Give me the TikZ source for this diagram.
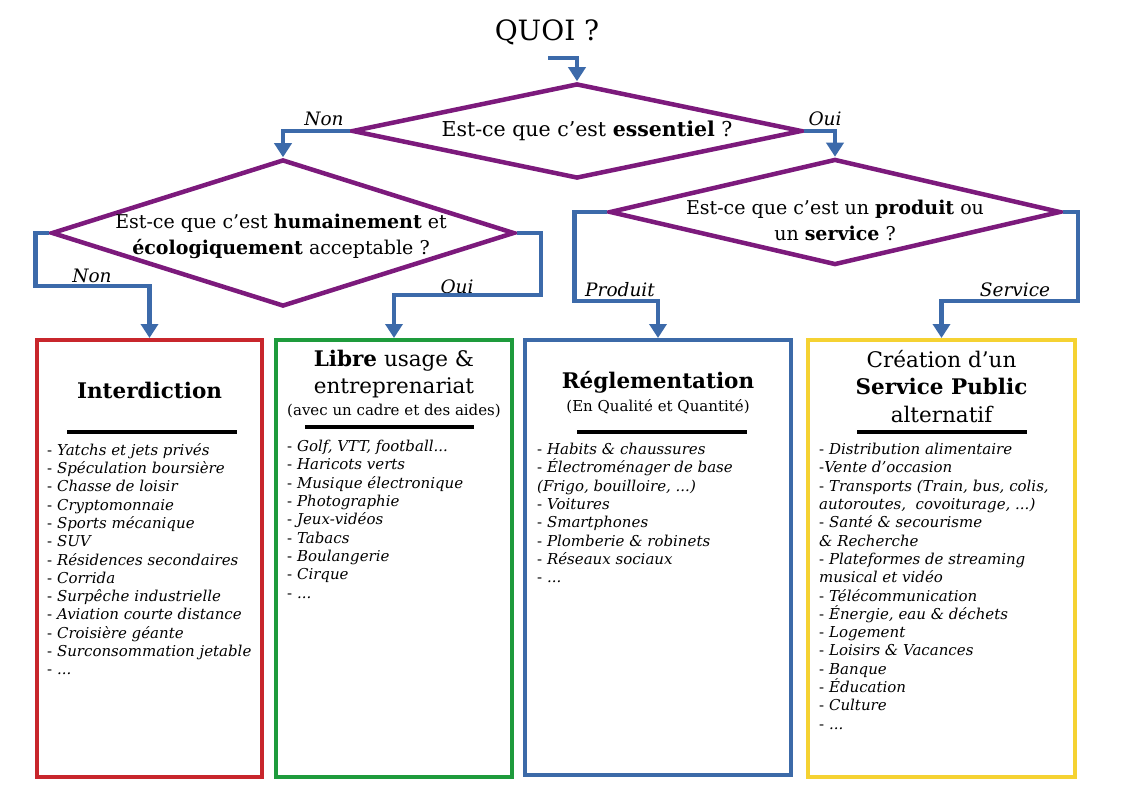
\documentclass[tikz,border=0pt]{standalone}
\usepackage{fontspec}
\setmainfont{DejaVu Serif}
\usetikzlibrary{positioning}
\usetikzlibrary{shapes.geometric}
\usetikzlibrary{arrows.meta}

\definecolor{qpurple}{RGB}{124,26,124}
\definecolor{flowblue}{RGB}{60,106,170}
\definecolor{banred}{RGB}{200,38,44}
\definecolor{freegreen}{RGB}{30,155,60}
\definecolor{lawblue}{RGB}{60,106,168}
\definecolor{pubyellow}{RGB}{245,210,50}

\tikzset{
  decision/.style={diamond, draw=qpurple, line width=4.5pt, inner sep=0pt},
  question/.style={align=center, font=\fontsize{19}{26}\selectfont},
  flow/.style={draw=flowblue, line width=4.5pt, -{Triangle[width=17pt,length=14pt]}},
  answer/.style={font=\fontsize{18.5}{20}\selectfont\itshape},
  outcome/.style={rectangle, draw, line width=4pt, inner sep=0pt},
  header/.style={align=center, font=\fontsize{21.5}{27.5}\selectfont},
  subheader/.style={font=\fontsize{15}{18}\selectfont},
  items/.style={anchor=north west, align=left, inner sep=0pt,
    font=\fontsize{15}{18.3}\selectfont},
  bar/.style={line width=4pt},
}

\begin{document}
\begin{tikzpicture}[x=1pt, y=-1pt]
    \useasboundingbox (0,0) rectangle (1123,794);

    % Define nodes
    \node[font=\fontsize{28}{34}\selectfont] (quoi) at (547,32) {QUOI ?};
    \coordinate (start) at (548,58);

    \node[decision, minimum width=450pt, minimum height=95pt]  (q1) at (577,131) {};
    \node[question, font=\fontsize{20.5}{26}\selectfont] (q1t) at (587,131) {Est-ce que c’est \textbf{essentiel} ?};

    \node[decision, minimum width=463pt, minimum height=147pt] (q2) at (283,233) {};
    \node[question] (q2t) at (281,236) {Est-ce que c’est \textbf{humainement} et\\ \textbf{écologiquement} acceptable ?};

    \node[decision, minimum width=451pt, minimum height=106pt] (q3) at (835,212) {};
    \node[question] (q3t) at (835,220) {Est-ce que c’est un \textbf{produit} ou\\ un \textbf{service} ?};

    \node[outcome, draw=banred,    minimum width=225pt, minimum height=437pt] (ban)  at (149.5,558.5) {};
    \node[outcome, draw=freegreen, minimum width=236pt, minimum height=437pt] (free) at (394,558.5) {};
    \node[outcome, draw=lawblue,   minimum width=266pt, minimum height=435pt] (law)  at (658,557.5) {};
    \node[outcome, draw=pubyellow, minimum width=267pt, minimum height=437pt] (pub)  at (941.5,558.5) {};

    % Answers
    \node[answer] (n1) at (324,119) {Non};
    \node[answer] (o1) at (825,119) {Oui};
    \node[answer] (n2) at (92,276)  {Non};
    \node[answer] (o2) at (457,287) {Oui};
    \node[answer] (pr) at (620,290) {Produit};
    \node[answer] (sv) at (1015,290) {Service};

    % Connect the nodes
    \draw[flow] (start) -| (q1.north);
    \draw[flow] (q1.west) -| (q2.north);
    \draw[flow] (q1.east) -| (q3.north);
    \draw[flow] (q2.west) -- ++(-14,0) |- ([yshift=52pt]ban.north) -- (ban.north);
    \draw[flow] (q2.east) -- ++(24,0) |- ([yshift=43pt]free.north) -- (free.north);
    \draw[flow] (q3.west) -- ++(-33,0) |- ([yshift=37pt]law.north) -- (law.north);
    \draw[flow] (q3.east) -- ++(15,0) |- ([yshift=37pt]pub.north) -- (pub.north);

    % Interdiction
    \node[header] (banh) at (149.5,390) {\textbf{Interdiction}};
    \draw[bar] (67,432) -- (237,432);
    \node[items] (banl) at (47,443) {%
      - \textit{Yatchs et jets privés}\\
      - \textit{Spéculation boursière}\\
      - \textit{Chasse de loisir}\\
      - \textit{Cryptomonnaie}\\
      - \textit{Sports mécanique}\\
      - \textit{SUV}\\
      - \textit{Résidences secondaires}\\
      - \textit{Corrida}\\
      - \textit{Surpêche industrielle}\\
      - \textit{Aviation courte distance}\\
      - \textit{Croisière géante}\\
      - \textit{Surconsommation jetable}\\
      - \textit{...}};

    % Libre usage
    \node[header] (freeh) at (394,374) {\textbf{Libre} usage \&\\ entreprenariat};
    \node[subheader] (frees) at (394,411) {(avec un cadre et des aides)};
    \draw[bar] (305,427) -- (474,427);
    \node[items] (freel) at (287,440) {%
      - \textit{Golf, VTT, football...}\\
      - \textit{Haricots verts}\\
      - \textit{Musique électronique}\\
      - \textit{Photographie}\\
      - \textit{Jeux-vidéos}\\
      - \textit{Tabacs}\\
      - \textit{Boulangerie}\\
      - \textit{Cirque}\\
      - \textit{...}};

    % Reglementation
    \node[header] (lawh) at (658,382) {\textbf{Réglementation}};
    \node[subheader] (laws) at (658,407) {(En Qualité et Quantité)};
    \draw[bar] (577,432) -- (747,432);
    \node[items] (lawl) at (537,443) {%
      - \textit{Habits \& chaussures}\\
      - \textit{Électroménager de base}\\
      \textit{(Frigo, bouilloire, ...)}\\
      - \textit{Voitures}\\
      - \textit{Smartphones}\\
      - \textit{Plomberie \& robinets}\\
      - \textit{Réseaux sociaux}\\
      - \textit{...}};

    % Service public
    \node[header] (pubh) at (941.5,386.5) {Création d’un\\ \textbf{Service Public}\\ alternatif};
    \draw[bar] (857,432) -- (1027,432);
    \node[items] (publ) at (819,443) {%
      - \textit{Distribution alimentaire}\\
      -\textit{Vente d’occasion}\\
      - \textit{Transports (Train, bus, colis,}\\
      \textit{autoroutes, \ covoiturage, ...)}\\
      - \textit{Santé \& secourisme}\\
      \textit{\& Recherche}\\
      - \textit{Plateformes de streaming}\\
      \textit{musical et vidéo}\\
      - \textit{Télécommunication}\\
      - \textit{Énergie, eau \& déchets}\\
      - \textit{Logement}\\
      - \textit{Loisirs \& Vacances}\\
      - \textit{Banque}\\
      - \textit{Éducation}\\
      - \textit{Culture}\\
      - \textit{...}};
\end{tikzpicture}
\end{document}
